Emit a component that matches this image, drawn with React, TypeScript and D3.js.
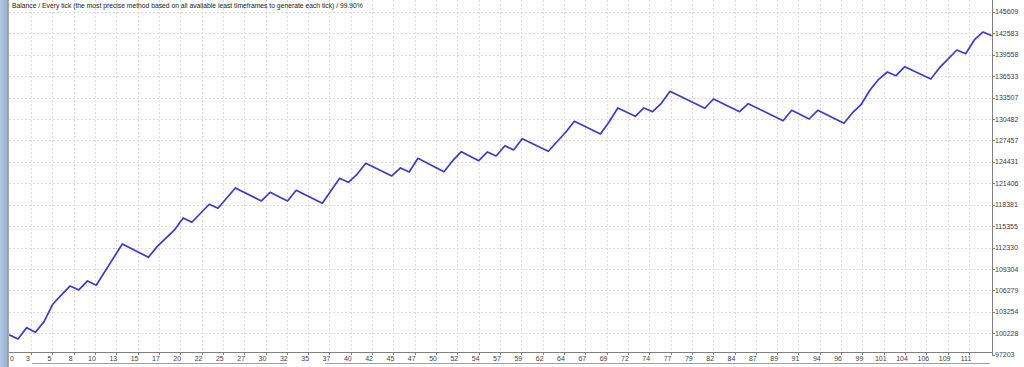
import React from 'react';
import * as d3 from 'd3';

const title =
  'Balance / Every tick (the most precise method based on all available least timeframes to generate each tick) / 99.90%';

// trade number (vertices of the balance curve)
const trades = [
  0, 1, 2, 3, 4, 5, 6, 7, 8, 9, 10, 13, 16, 17, 19, 20, 21, 23, 24, 26, 29, 30, 32, 33, 36, 38, 39, 40, 41,
  44, 45, 46, 47, 50, 51, 52, 54, 55, 56, 57, 58, 59, 62, 64, 65, 68, 69, 70, 72, 73, 74, 75, 76, 80, 81,
  84, 85, 89, 90, 92, 93, 96, 97, 98, 99, 100, 101, 102, 103, 106, 107, 109, 110, 111, 112, 113,
];

// balance after each trade above
const balances = [
  100000, 99430, 101024, 100375, 101871, 104328, 105641, 106912, 106347, 107618, 107010, 112841, 110963,
  112460, 114818, 116512, 115905, 118446, 117881, 120747, 118912, 120140, 118912, 120422, 118587, 122117,
  121552, 122681, 124234, 122441, 123571, 123006, 124940, 123048, 124601, 125872, 124601, 125830, 125265,
  126719, 126112, 127707, 125928, 128611, 130164, 128371, 130107, 132042, 130870, 132042, 131519, 132705,
  134399, 131999, 133312, 131519, 132649, 130249, 131717, 130489, 131717, 129882, 131378, 132564, 134583,
  136093, 137124, 136602, 137872, 136136, 137731, 140230, 139708, 141642, 142771, 142249,
];

const xTickLabels = [
  0, 3, 5, 8, 10, 13, 15, 17, 20, 22, 25, 27, 30, 32, 35, 37, 40, 42, 45, 47, 50, 52, 54, 57, 59, 62, 64,
  67, 69, 72, 74, 77, 79, 82, 84, 87, 89, 91, 94, 96, 99, 101, 104, 106, 109, 111,
];

const yTickLabels = [
  97203, 100228, 103254, 106279, 109304, 112330, 115355, 118381, 121406, 124431, 127457, 130482, 133507,
  136533, 139558, 142583, 145609,
];

export default function App() {
  const W = 1024;
  const H = 367;
  const left = 9;
  const right = 992;
  const bottom = 352;

  const x = d3.scaleLinear().domain([0, 113]).range([9.3, 991.7]);
  const y = d3.scaleLinear().domain([97203, 145609]).range([354.7, 11.9]);
  const gx = d3
    .scalePoint<string>()
    .domain(xTickLabels.map(String))
    .range([9.7, 969]);

  const pts: [number, number][] = trades.map((t, i) => [t, balances[i]]);
  const line = d3
    .line<[number, number]>()
    .x((d) => x(d[0]))
    .y((d) => y(d[1]));

  const font = 'Liberation Sans, Arial, sans-serif';

  return (
    <svg
      width={W}
      height={H}
      style={{ position: 'absolute', left: 0, top: 0, background: '#fff' }}
    >
      <defs>
        <clipPath id="plot">
          <rect x={left} y={0} width={right - left} height={bottom} />
        </clipPath>
        <linearGradient id="strip" x1="0" x2="1" y1="0" y2="0">
          <stop offset="0" stopColor="#b4c8e2" />
          <stop offset="1" stopColor="#93afd4" />
        </linearGradient>
      </defs>
      <rect x={0} y={0} width={W} height={H} fill="#fff" />
      {/* left strip */}
      <rect x={0} y={0} width={7.5} height={H} fill="url(#strip)" />
      <line x1={8} x2={8} y1={0} y2={H} stroke="#8c8c8c" strokeWidth={1.5} />

      {/* horizontal grid */}
      {yTickLabels
        .filter((v) => y(v) < bottom)
        .map((v) => (
          <line
            key={'hy' + v}
            x1={left}
            x2={right}
            y1={Math.round(y(v)) + 0.5}
            y2={Math.round(y(v)) + 0.5}
            stroke="#dcdcdc"
            strokeDasharray="2,2"
          />
        ))}
      {/* vertical grid */}
      {xTickLabels.slice(1).map((t) => {
        const px = Math.round(gx(String(t)) as number) + 0.5;
        return (
          <line
            key={'vx' + t}
            x1={px}
            x2={px}
            y1={0}
            y2={bottom}
            stroke="#dcdcdc"
            strokeDasharray="2,2"
          />
        );
      })}

      {/* balance line */}
      <path
        d={line(pts) || ''}
        fill="none"
        stroke="#3b3bc9"
        strokeWidth={1.7}
        strokeLinejoin="round"
        clipPath="url(#plot)"
      />

      {/* axes */}
      <line x1={left} x2={right} y1={bottom + 0.5} y2={bottom + 0.5} stroke="#808080" />
      <line x1={right + 0.5} x2={right + 0.5} y1={0} y2={bottom + 4} stroke="#808080" />

      {/* right axis labels */}
      {yTickLabels.map((v) => (
        <g key={'yl' + v}>
          <line
            x1={right}
            x2={right + 3}
            y1={Math.round(y(v)) + 0.5}
            y2={Math.round(y(v)) + 0.5}
            stroke="#808080"
          />
          <text
            x={995}
            y={y(v) + 2.5}
            fontSize={7}
            fontFamily={font}
            fill="#404040"
          >
            {v}
          </text>
        </g>
      ))}

      {/* bottom axis labels */}
      {xTickLabels.map((t, k) => {
        const px = gx(String(t)) as number;
        return (
          <g key={'xl' + t}>
            {k > 0 && (
              <line
                x1={Math.round(px) + 0.5}
                x2={Math.round(px) + 0.5}
                y1={bottom}
                y2={bottom + 3}
                stroke="#808080"
              />
            )}
            <text
              x={k === 0 ? 10 : px - 3}
              y={361}
              fontSize={7}
              fontFamily={font}
              fill="#404040"
              textAnchor={k === 0 ? 'start' : 'middle'}
            >
              {t}
            </text>
          </g>
        );
      })}

      {/* bottom tab border */}
      <line x1={32} x2={287} y1={363.5} y2={363.5} stroke="#a0a0a0" />
      <line x1={325} x2={990} y1={363.5} y2={363.5} stroke="#a0a0a0" />

      {/* title */}
      <text x={12} y={8} fontSize={6.75} fontFamily={font} fill="#202020">
        {title}
      </text>
    </svg>
  );
}
